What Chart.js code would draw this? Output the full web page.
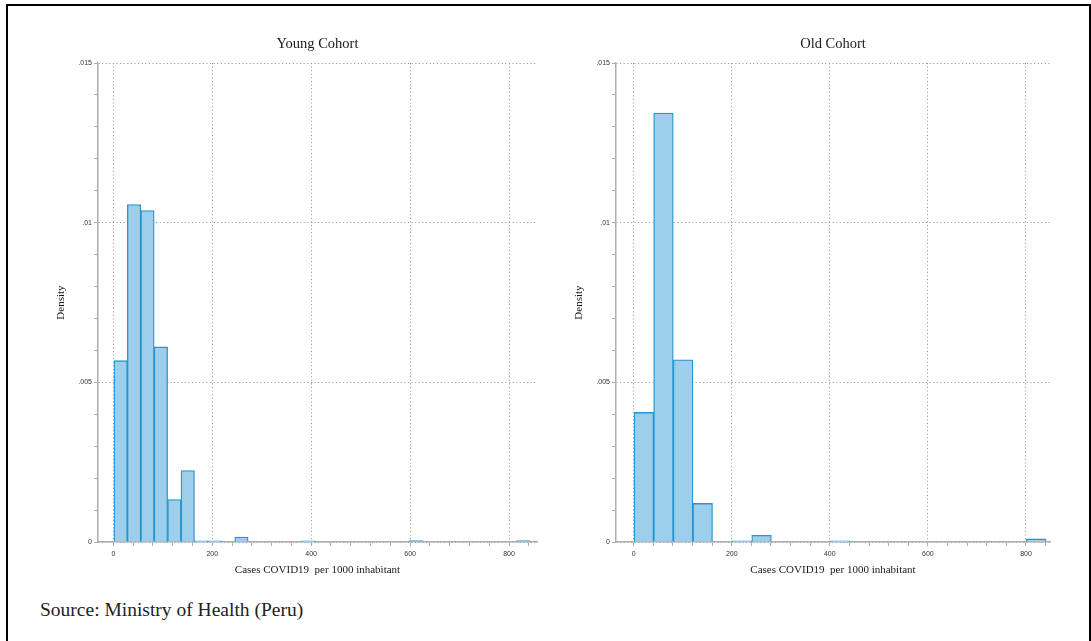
<!DOCTYPE html>
<html>
<head>
<meta charset="utf-8">
<title>COVID19 cases per 1000 inhabitant - density by cohort</title>
<script src="https://cdn.jsdelivr.net/npm/chart.js@4.4.1/dist/chart.umd.min.js"></script>
<style>
    html, body { margin: 0; padding: 0; background: #fff; }
    body { width: 1091px; height: 641px; position: relative; overflow: hidden; }
    #frame {
        position: absolute; left: 6px; top: 4px; width: 1081px; height: 700px;
        border: 2px solid #000; border-bottom: none;
    }
    canvas { position: absolute; top: 25px; }
    #youngChart { left: 40px; }
    #oldChart { left: 558px; }
    #source {
        position: absolute; left: 40px; top: 600px;
        font-family: 'Liberation Serif', 'Times New Roman', serif;
        font-size: 19.5px; line-height: 19.5px; color: #222;
    }
</style>
</head>
<body>
<div id="frame"></div>
<canvas id="youngChart" width="500" height="555"></canvas>
<canvas id="oldChart" width="495" height="555"></canvas>
<div id="source">Source: Ministry of Health (Peru)</div>

<script>
// Titulos y etiquetas
const chartTitles = ['Young Cohort', 'Old Cohort'];
const xAxisTitle = 'Cases COVID19  per 1000 inhabitant';
const yAxisTitle = 'Density';

// Ticks de los ejes
const xMajorTicks = [0, 200, 400, 600, 800];
const xMinorStep = 40;
const xTickMax = 840;
const yMajorTicks = [0, 0.005, 0.01, 0.015];
const yTickLabels = ['0', '.005', '.01', '.015'];
const yMinorStep = 0.001;

// Histograma cohorte joven (31 bins)
const youngBinStart = 1.2;
const youngBinWidth = 27.14;
const youngDensity = [
    0.00568, 0.01057, 0.01038, 0.00611, 0.00133, 0.00224, 0.00004, 0.00004,
    0, 0.00016, 0, 0, 0, 0, 0.00004, 0,
    0, 0, 0, 0, 0, 0, 0.00005, 0,
    0, 0, 0, 0, 0, 0, 0.00005
];
const youngRange = [-31, 856.6];

// Histograma cohorte mayor (21 bins)
const oldBinStart = 0.8;
const oldBinWidth = 40;
const oldDensity = [
    0.00406, 0.01343, 0.00571, 0.00121, 0, 0.00004, 0.00021, 0,
    0, 0, 0.00004, 0, 0, 0, 0, 0,
    0, 0, 0, 0, 0.0001
];
const oldRange = [-36, 849];

const barFill = 'rgb(157, 207, 236)';
const barLine = 'rgb(38, 150, 206)';
const gridColor = '#8f8f8f';
const axisColor = '#aeaeae';
const tickFont = { family: "'Liberation Sans', Arial, sans-serif", size: 7 };
const serif = "'Liberation Serif', 'Times New Roman', serif";

function buildTicks(start, end, step) {
    const out = [];
    const n = Math.round((end - start) / step);
    for (let i = 0; i <= n; i++) {
        out.push(+(start + i * step).toFixed(6));
    }
    return out;
}

function isMajorX(v) {
    return xMajorTicks.includes(v);
}

function isMajorY(v) {
    return yMajorTicks.some(m => Math.abs(m - v) < 1e-9);
}

function binPoints(start, width, values) {
    return values.map((v, i) => ({ x: start + width * (i + 0.5), y: v }));
}

function makeHistogram(canvasId, title, points, range) {
    const ctx = document.getElementById(canvasId).getContext('2d');
    return new Chart(ctx, {
        type: 'bar',
        data: {
            datasets: [{
                data: points,
                backgroundColor: barFill,
                borderColor: barLine,
                borderWidth: 1.3,
                barPercentage: 1,
                categoryPercentage: 1,
                grouped: false,
            }]
        },
        options: {
            responsive: false,
            animation: false,
            layout: { padding: { left: 0, right: 3, top: 0, bottom: 3 } },
            plugins: {
                legend: { display: false },
                tooltip: { enabled: false },
                title: {
                    display: true,
                    fullSize: false,
                    text: title,
                    color: '#1a1a1a',
                    font: { family: serif, size: 14.5, weight: 'normal' },
                    padding: { top: 10.9, bottom: 9.7 },
                },
            },
            scales: {
                x: {
                    type: 'linear',
                    offset: false,
                    min: range[0],
                    max: range[1],
                    afterBuildTicks: (scale) => {
                        scale.ticks = buildTicks(0, xTickMax, xMinorStep).map(v => ({ value: v }));
                    },
                    ticks: {
                        autoSkip: false,
                        maxRotation: 0,
                        padding: 3.4,
                        color: '#333',
                        font: tickFont,
                        callback: (v) => isMajorX(v) ? String(v) : '',
                    },
                    grid: {
                        offset: false,
                        color: (c) => c.tick && isMajorX(c.tick.value) ? gridColor : 'rgba(0,0,0,0)',
                        lineWidth: 1,
                        tickLength: 4,
                        tickColor: axisColor,
                        tickBorderDash: [],
                    },
                    border: { display: true, color: axisColor, width: 1.5, dash: [1, 2.6] },
                    title: {
                        display: true,
                        text: xAxisTitle,
                        color: '#1a1a1a',
                        font: { family: serif, size: 11 },
                        padding: { top: 2.5, bottom: 0 },
                    },
                },
                y: {
                    type: 'linear',
                    min: 0,
                    max: 0.015,
                    afterBuildTicks: (scale) => {
                        scale.ticks = buildTicks(0, 0.015, yMinorStep).map(v => ({ value: v }));
                    },
                    afterFit: (scale) => { scale.width = 58; },
                    ticks: {
                        autoSkip: false,
                        padding: 2,
                        color: '#333',
                        font: tickFont,
                        callback: (v) => {
                            const idx = yMajorTicks.findIndex(m => Math.abs(m - v) < 1e-9);
                            return idx >= 0 ? yTickLabels[idx] : '';
                        },
                    },
                    grid: {
                        color: (c) => c.tick && isMajorY(c.tick.value) ? gridColor : 'rgba(0,0,0,0)',
                        lineWidth: 1,
                        tickLength: 4,
                        tickColor: axisColor,
                        tickBorderDash: [],
                    },
                    border: { display: true, color: axisColor, width: 1.5, dash: [1, 2.6] },
                    title: {
                        display: true,
                        text: yAxisTitle,
                        color: '#1a1a1a',
                        font: { family: serif, size: 11 },
                        padding: { top: 15, bottom: 0 },
                    },
                },
            },
        },
    });
}

document.addEventListener('DOMContentLoaded', () => {
    makeHistogram('youngChart', chartTitles[0], binPoints(youngBinStart, youngBinWidth, youngDensity), youngRange);
    makeHistogram('oldChart', chartTitles[1], binPoints(oldBinStart, oldBinWidth, oldDensity), oldRange);
});
</script>
</body>
</html>
